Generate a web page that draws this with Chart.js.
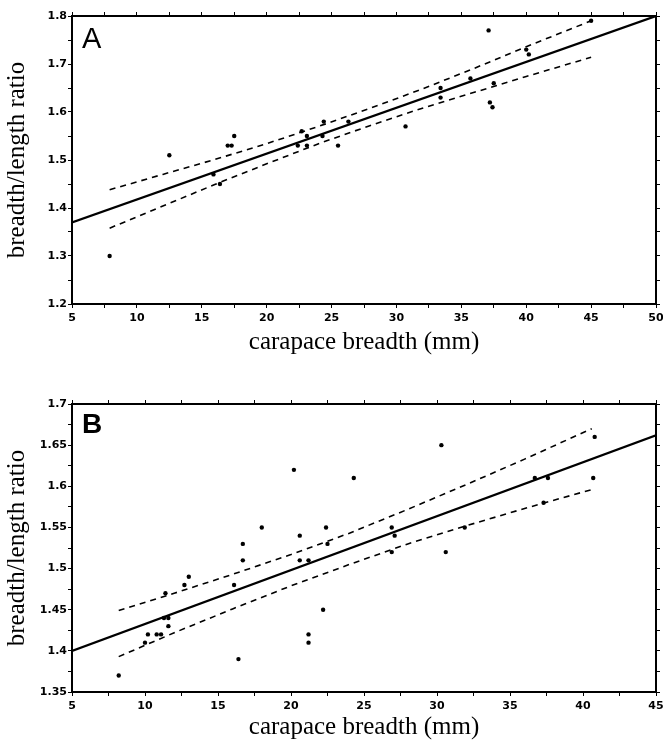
<!DOCTYPE html>
<html>
<head>
<meta charset="utf-8">
<script src="https://cdn.jsdelivr.net/npm/chart.js@4.4.0/dist/chart.umd.min.js"></script>
<style>
  body { margin: 0; background: #fff; width: 663px; height: 740px; position: relative; overflow: hidden; }
  canvas { position: absolute; left: 0; }
  #chartA { top: 0; }
  #chartB { top: 370px; }
</style>
</head>
<body>
<canvas id="chartA" width="663" height="370"></canvas>
<canvas id="chartB" width="663" height="370"></canvas>
<script>
// ---- panel A ----
const aBreadth = [7.9, 12.5, 15.9, 16.4, 17.0, 17.3, 17.5, 22.4, 22.7, 23.1, 23.1, 24.3, 24.4, 25.5, 26.3,
                  30.7, 33.4, 33.4, 35.7, 37.1, 37.2, 37.4, 37.5, 40.0, 40.2, 45.0];
const aRatio   = [1.30, 1.51, 1.47, 1.45, 1.53, 1.53, 1.55, 1.53, 1.56, 1.55, 1.53, 1.55, 1.58, 1.53, 1.58,
                  1.57, 1.65, 1.63, 1.67, 1.77, 1.62, 1.61, 1.66, 1.73, 1.72, 1.79];
const aFitX = [5, 50];
const aFitY = [1.37, 1.80];
const aBandX  = [7.9, 12, 16, 20, 24, 28, 32, 36, 40, 45];
const aUpper  = [1.438, 1.470, 1.501, 1.534, 1.570, 1.608, 1.648, 1.691, 1.736, 1.790];
const aLower  = [1.358, 1.404, 1.449, 1.492, 1.534, 1.572, 1.608, 1.641, 1.674, 1.714];
const aXTicks = [5, 10, 15, 20, 25, 30, 35, 40, 45, 50];
const aYTicks = [1.2, 1.3, 1.4, 1.5, 1.6, 1.7, 1.8];

// ---- panel B ----
const bBreadth = [8.2, 10.0, 10.2, 10.8, 11.1, 11.3, 11.4, 11.6, 11.6, 12.7, 13.0, 16.1, 16.4, 16.7, 16.7,
                  18.0, 20.2, 20.6, 20.6, 21.2, 21.2, 21.2, 22.2, 22.4, 22.5, 24.3, 26.9, 27.1, 26.9,
                  30.3, 30.6, 31.9, 36.7, 37.3, 37.6, 40.7, 40.8];
const bRatio   = [1.37, 1.41, 1.42, 1.42, 1.42, 1.44, 1.47, 1.44, 1.43, 1.48, 1.49, 1.48, 1.39, 1.53, 1.51,
                  1.55, 1.62, 1.54, 1.51, 1.51, 1.42, 1.41, 1.45, 1.55, 1.53, 1.61, 1.55, 1.54, 1.52,
                  1.65, 1.52, 1.55, 1.61, 1.58, 1.61, 1.61, 1.66];
const bFitX = [5, 45];
const bFitY = [1.40, 1.662];
const bBandX  = [8.2, 12, 16, 20, 24, 28, 32, 36, 40.6];
const bUpper  = [1.449, 1.470, 1.493, 1.517, 1.543, 1.572, 1.602, 1.633, 1.670];
const bLower  = [1.393, 1.422, 1.451, 1.479, 1.505, 1.530, 1.552, 1.573, 1.596];
const bXTicks = [5, 10, 15, 20, 25, 30, 35, 40, 45];
const bYTicks = [1.35, 1.4, 1.45, 1.5, 1.55, 1.6, 1.65, 1.7];

const pts = (xs, ys) => xs.map((x, i) => ({x: x, y: ys[i]}));

// labelled ticks plus an unlabelled tick halfway between each pair
const withMinor = labels => labels.flatMap((v, i) => i < labels.length - 1 ? [v, (v + labels[i + 1]) / 2] : [v]);

const tickFont = {family: 'DejaVu Sans', size: 11, weight: 'bold'};
const grid = {drawOnChartArea: false, drawTicks: true, tickLength: 4, color: '#000', lineWidth: 1};
const border = {display: true, color: '#000', width: 2};

function makePanel(id, p) {
  const xAll = withMinor(p.xTicks);
  const yAll = withMinor(p.yTicks);
  const setX = s => { s.ticks = xAll.map(v => ({value: v})); };
  const setY = s => { s.ticks = yAll.map(v => ({value: v})); };
  const xMin = p.xTicks[0], xMax = p.xTicks[p.xTicks.length - 1];
  const yMin = p.yTicks[0], yMax = p.yTicks[p.yTicks.length - 1];

  const letter = {
    id: 'letter',
    afterDraw(chart) {
      const ctx = chart.ctx;
      ctx.save();
      ctx.fillStyle = '#000';
      ctx.font = p.letterFont;
      ctx.textBaseline = 'alphabetic';
      ctx.fillText(p.letter, chart.chartArea.left + 10, chart.chartArea.top + p.letterDy);
      ctx.restore();
    }
  };

  const dashed = {showLine: true, borderColor: '#000', borderWidth: 1.6, borderDash: [6, 5], pointRadius: 0, fill: false};

  new Chart(id, {
    type: 'scatter',
    data: {
      datasets: [
        Object.assign({data: pts(p.bandX, p.upper)}, dashed),
        Object.assign({data: pts(p.bandX, p.lower)}, dashed),
        {data: pts(p.fitX, p.fitY), showLine: true, borderColor: '#000', borderWidth: 2.2, pointRadius: 0},
        {data: pts(p.breadth, p.ratio), pointRadius: 2.2, backgroundColor: '#000', borderWidth: 0}
      ]
    },
    options: {
      responsive: false,
      animation: false,
      layout: {padding: 0},
      plugins: {legend: {display: false}, tooltip: {enabled: false}},
      scales: {
        x: {
          type: 'linear', position: 'bottom', min: xMin, max: xMax,
          afterBuildTicks: setX,
          afterFit: s => { s.height = p.bottomH; s.paddingLeft = 0; s.paddingRight = 0; },
          ticks: {autoSkip: false, maxRotation: 0, color: '#000', font: tickFont, padding: 4,
                  callback: v => p.xTicks.includes(v) ? String(v) : ''},
          grid: grid, border: border,
          title: {display: true, text: 'carapace breadth (mm)', color: '#000',
                  font: {family: 'Liberation Serif', size: 25, lineHeight: 1},
                  padding: {top: 0, bottom: p.titlePad}}
        },
        x2: {
          type: 'linear', position: 'top', min: xMin, max: xMax,
          afterBuildTicks: setX,
          afterFit: s => { s.height = p.topH; s.paddingLeft = 0; s.paddingRight = 0; },
          ticks: {display: false}, grid: grid, border: border
        },
        y: {
          type: 'linear', position: 'left', min: yMin, max: yMax,
          afterBuildTicks: setY,
          afterFit: s => { s.width = 72; s.paddingTop = 0; s.paddingBottom = 0; },
          ticks: {autoSkip: false, color: '#000', font: tickFont, padding: 1,
                  callback: v => p.yTicks.includes(v) ? String(v) : ''},
          grid: grid, border: border,
          title: {display: true, text: 'breadth/length ratio', color: '#000',
                  font: {family: 'Liberation Serif', size: 25, lineHeight: 1},
                  padding: {top: 5, bottom: 0}}
        },
        y2: {
          type: 'linear', position: 'right', min: yMin, max: yMax,
          afterBuildTicks: setY,
          afterFit: s => { s.width = 7; s.paddingTop = 0; s.paddingBottom = 0; },
          ticks: {display: false}, grid: grid, border: border
        }
      }
    },
    plugins: [letter]
  });
}

makePanel('chartA', {
  breadth: aBreadth, ratio: aRatio, fitX: aFitX, fitY: aFitY,
  bandX: aBandX, upper: aUpper, lower: aLower, xTicks: aXTicks, yTicks: aYTicks,
  topH: 16, bottomH: 66, titlePad: 15, letter: 'A', letterFont: '29px "Liberation Sans"', letterDy: 32
});

makePanel('chartB', {
  breadth: bBreadth, ratio: bRatio, fitX: bFitX, fitY: bFitY,
  bandX: bBandX, upper: bUpper, lower: bLower, xTicks: bXTicks, yTicks: bYTicks,
  topH: 34, bottomH: 48, titlePad: 0, letter: 'B', letterFont: 'bold 28px "Liberation Sans"', letterDy: 29
});
</script>
</body>
</html>
